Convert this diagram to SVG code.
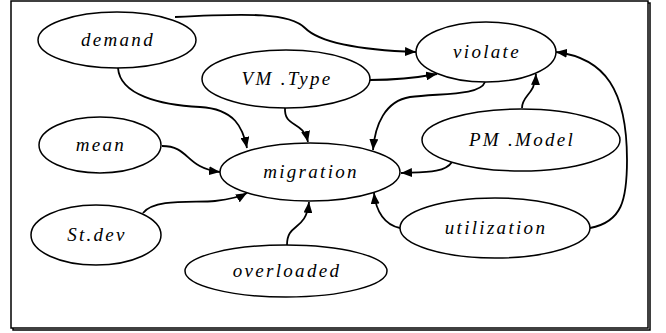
<svg xmlns="http://www.w3.org/2000/svg" width="666" height="333" viewBox="0 0 666 333">
<style>
.n ellipse{fill:#fff;stroke:#000;stroke-width:1.5}
.n text{font-family:'Liberation Serif',serif;font-style:italic;font-size:19px;letter-spacing:2.3px;text-anchor:middle;fill:#000}
.e path{fill:none;stroke:#000;stroke-width:1.8;marker-end:url(#ah)}
</style>
<defs>
<marker id="ah" markerUnits="userSpaceOnUse" markerWidth="12" markerHeight="9" refX="11" refY="4.5" orient="auto"><path d="M0,0 L11,4.5 L0,9 z" fill="#000"/></marker>
</defs>
<rect x="0" y="0" width="666" height="333" fill="#fff"/>
<rect x="13" y="3" width="637" height="327" fill="none" stroke="#000" stroke-width="1.5"/>
<rect x="11" y="1" width="637" height="327" fill="#fff" stroke="#000" stroke-width="1.5"/>
<g class="e" id="edges">
<path d="M175,17 C250,13 290,13 305,28 C320,43 360,50 416,52"/>
<path d="M370,80 C395,80 415,78 437,74"/>
<path d="M118,68 C120,95 160,105 200,107 C235,109 243,128 247,148"/>
<path d="M285,108 C284,128 303,120 308,142"/>
<path d="M162,146 C190,146 185,168 220,172"/>
<path d="M143,213 C155,198 195,203 215,201 C232,199 240,197 247,193"/>
<path d="M287,245 C287,222 306,232 309,202"/>
<path d="M485,82 C480,96 440,93 410,97 C385,101 375,125 373,150"/>
<path d="M522,108 C522,95 535,95 536,74"/>
<path d="M452,162 C445,173 425,172 401,173"/>
<path d="M400,228 C385,225 376,212 374,193"/>
<path d="M590,228 C622,222 627,200 627,160 C627,90 605,58 556,52"/>
</g>
<g class="n" id="demand"><ellipse cx="117" cy="40" rx="79" ry="28"/><text x="118" y="46">demand</text></g>
<g class="n" id="vmtype"><ellipse cx="286" cy="79" rx="84" ry="29"/><text x="287" y="85">VM .Type</text></g>
<g class="n" id="violate"><ellipse cx="486" cy="52" rx="70" ry="30"/><text x="487" y="58">violate</text></g>
<g class="n" id="mean"><ellipse cx="100" cy="145" rx="61" ry="28"/><text x="101" y="151">mean</text></g>
<g class="n" id="migration"><ellipse cx="310" cy="172" rx="90" ry="29"/><text x="311" y="178">migration</text></g>
<g class="n" id="pmmodel"><ellipse cx="521" cy="140" rx="99" ry="31"/><text x="522" y="146">PM .Model</text></g>
<g class="n" id="stdev"><ellipse cx="96" cy="235" rx="65" ry="30"/><text x="97" y="241">St.dev</text></g>
<g class="n" id="utilization"><ellipse cx="495" cy="228" rx="95" ry="30"/><text x="496" y="234">utilization</text></g>
<g class="n" id="overloaded"><ellipse cx="286" cy="271" rx="101" ry="26"/><text x="287" y="277">overloaded</text></g>
</svg>
